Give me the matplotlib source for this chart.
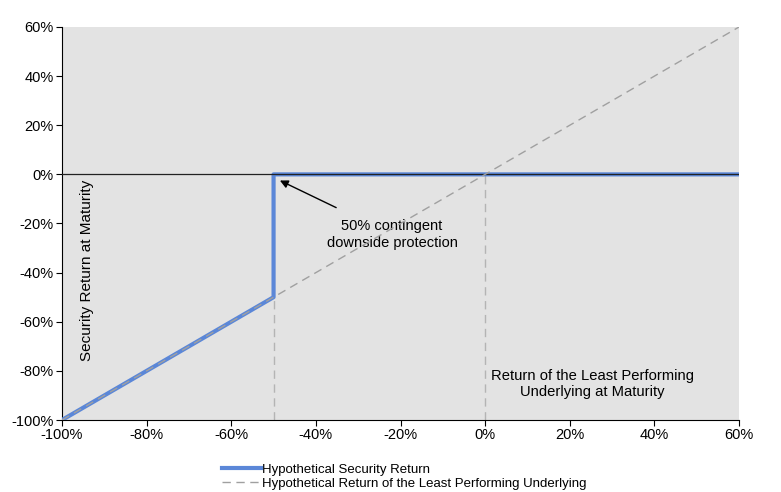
import matplotlib
matplotlib.use("Agg")
import matplotlib.pyplot as plt
from matplotlib.ticker import PercentFormatter

plt.rcParams['font.family'] = ['Liberation Sans', 'DejaVu Sans']
plt.rcParams['axes.unicode_minus'] = False

# 数据
security_x = [-100, -50, -50, 60]
security_y = [-100, -50, 0, 0]
underlying_x = [-100, 60]
underlying_y = [-100, 60]
x_ticks = [-100, -80, -60, -40, -20, 0, 20, 40, 60]
y_ticks = [-100, -80, -60, -40, -20, 0, 20, 40, 60]

fig = plt.figure(figsize=(7.81, 4.92), dpi=100)
ax = fig.add_axes([62 / 781, 1 - 420 / 492, 677 / 781, 393 / 492])
ax.set_facecolor('#e3e3e3')

ax.plot([-50, -50], [-100, -50], color='#b4b4b4', linestyle=(0, (6, 4)), linewidth=1, zorder=2)
ax.plot([0, 0], [-100, 0], color='#b4b4b4', linestyle=(0, (6, 4)), linewidth=1, zorder=2)

ax.plot(security_x, security_y, color='#5b87d8', linewidth=3, zorder=3,
        label='Hypothetical Security Return')
ax.axhline(0, color='#222222', linewidth=0.9, zorder=4)
ax.plot(underlying_x, underlying_y, color='#a0a0a0', linestyle=(0, (6, 4)), linewidth=1, zorder=4,
        label='Hypothetical Return of the Least Performing Underlying')

ax.set_xlim(-100, 60)
ax.set_ylim(-100, 60)
ax.set_xticks(x_ticks)
ax.set_yticks(y_ticks)
ax.xaxis.set_major_formatter(PercentFormatter(decimals=0))
ax.yaxis.set_major_formatter(PercentFormatter(decimals=0))
ax.tick_params(labelsize=10.5, length=4, color='black', direction='out', pad=2)
for side in ['top', 'right']:
    ax.spines[side].set_visible(False)
for side in ['left', 'bottom']:
    ax.spines[side].set_color('black')

ax.annotate('50% contingent\ndownside protection', xy=(-48.5, -2.5), xytext=(-22, -24.5),
            ha='center', va='center', fontsize=10.5,
            arrowprops=dict(arrowstyle='-|>', color='black', lw=1, shrinkA=15, shrinkB=0,
                            mutation_scale=12))
ax.text(25.3, -85.5, 'Return of the Least Performing\nUnderlying at Maturity',
        ha='center', va='center', fontsize=10.6)
ax.text(-94, -39, 'Security Return at Maturity', rotation=90,
        ha='center', va='center', fontsize=11)

fig.legend(loc='upper left', bbox_to_anchor=(215 / 781, 1 - 457 / 492), frameon=False,
           fontsize=9.5, handlelength=3, handletextpad=0.1, labelspacing=0.15,
           borderpad=0)

fig.savefig('out.png', dpi=100)
